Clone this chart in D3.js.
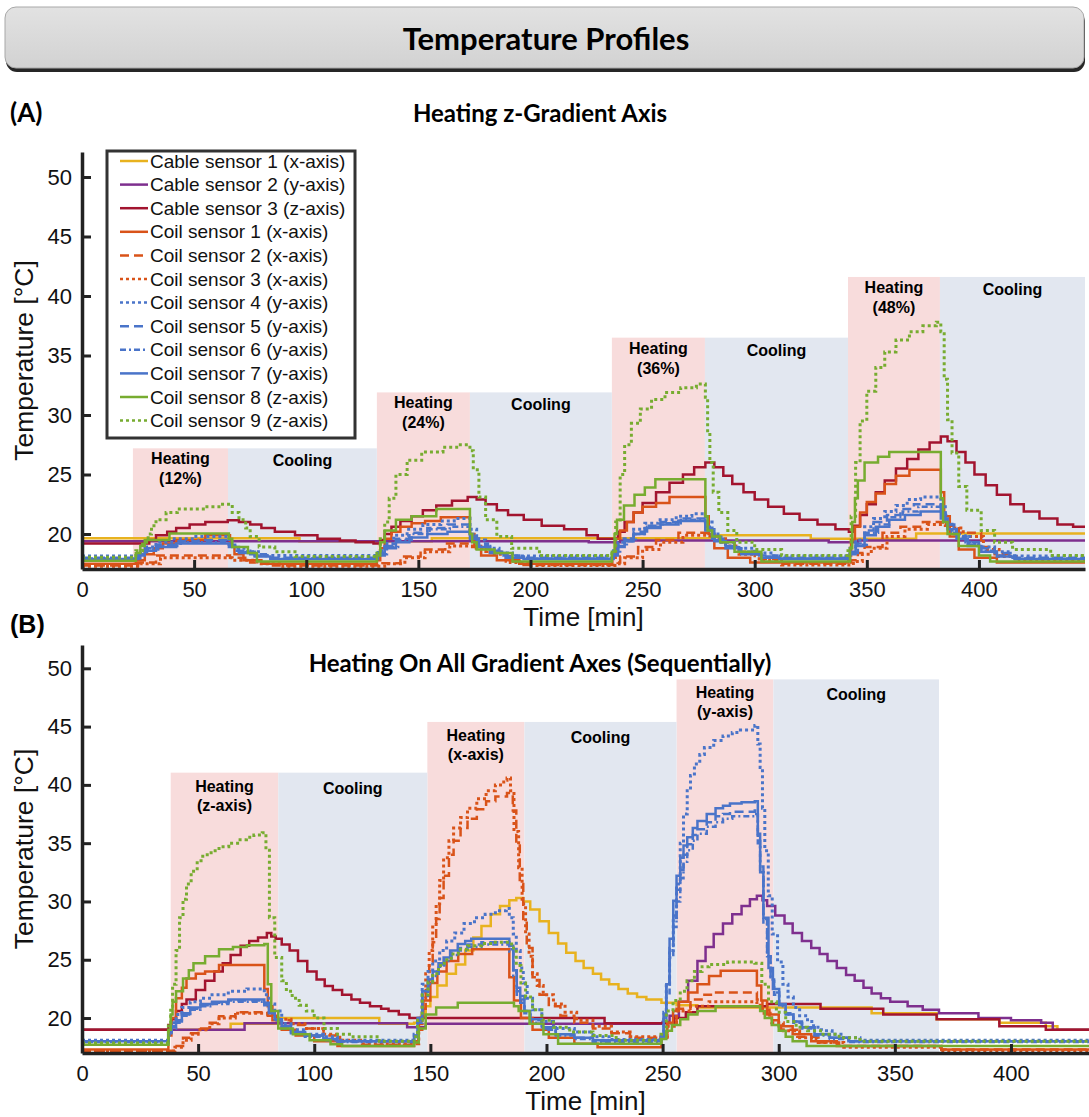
<!DOCTYPE html>
<html>
<head>
<meta charset="utf-8">
<script src="https://cdn.jsdelivr.net/npm/d3@7"></script>
<style>
  body { margin: 0; background: #fff; }
</style>
</head>
<body>
<div id="my_dataviz"></div>
<script>
// ---------- data (time [min], temperature [°C]) ----------
var sensorNames = ["Cable sensor 1 (x-axis)", "Cable sensor 2 (y-axis)", "Cable sensor 3 (z-axis)",
  "Coil sensor 1 (x-axis)", "Coil sensor 2 (x-axis)", "Coil sensor 3 (x-axis)",
  "Coil sensor 4 (y-axis)", "Coil sensor 5 (y-axis)", "Coil sensor 6 (y-axis)",
  "Coil sensor 7 (y-axis)", "Coil sensor 8 (z-axis)", "Coil sensor 9 (z-axis)"]
var sensorColors = ["#e8b21f", "#7e2f8e", "#a2142f", "#d95319", "#d95319", "#d95319",
  "#4a74c9", "#4a74c9", "#4a74c9", "#4a74c9", "#77ac30", "#77ac30"]
var sensorDash = [null, null, null, null, "9,5", "3,3", "3,3", "9,5", "6,3,2,3", null, null, "3,3"]

var xTicks = [0, 50, 100, 150, 200, 250, 300, 350, 400]
var yTicks = [20, 25, 30, 35, 40, 45, 50]

// panel A: blocks [start, end, top]
var a_heating = [[22.7, 65.1, 27.2], [131.5, 173, 31.9], [236.3, 277.8, 36.5], [341.6, 382.6, 41.6]]
var a_heatLabels = ["(12%)", "(24%)", "(36%)", "(48%)"]
var a_cooling = [[65.1, 131.5, 27.2], [173, 236.3, 31.9], [277.8, 341.6, 36.5], [382.6, 447.3, 41.6]]

// panel B
var b_heating = [[38.2, 84.5, 41.05], [148.7, 190.5, 45.4], [256, 297.7, 49.05]]
var b_heatLabels = ["(z-axis)", "(x-axis)", "(y-axis)"]
var b_cooling = [[84.5, 148.7, 41.05], [190.5, 256, 45.4], [297.7, 369, 49.05]]

var a_cable1 = [[0,19.65],[97,19.4],[156,19.65],[282,19.9],[325,19.6],[372,20.05],[447.3,20.05]]
var a_cable2 = [[0,19.4],[226,19.3],[240,19.45],[333,19.3],[346,19.45],[447.3,19.45]]
var a_cable3 = [[0,19.2],[28,19.2],[30,19.5],[33,19.9],[38,20.2],[42,20.5],[48,20.8],[55,21.0],[65,21.15],[70,21.0],[75,20.8],[80,20.5],[86,20.2],[95,19.9],[105,19.6],[115,19.45],[122,19.3],[130,19.2],
  [133,19.5],[135,20.0],[138,20.6],[142,21.1],[147,21.5],[152,22.0],[158,22.4],[165,22.8],[172,23.1],[176,22.9],[180,22.5],[185,22.0],[190,21.6],[197,21.2],[205,20.7],[215,20.4],[225,19.9],[230,19.6],
  [239,20.2],[242,21.0],[246,21.8],[250,22.6],[256,23.5],[262,24.3],[268,25.0],[273,25.6],[278,26.0],[282,25.6],[286,24.9],[290,24.2],[295,23.5],[300,22.9],[306,22.3],[313,21.7],[320,21.2],[328,20.8],[336,20.4],[342,20.2],
  [344,20.7],[347,21.6],[350,22.5],[354,23.5],[358,24.5],[363,25.5],[368,26.3],[373,27.1],[378,27.7],[383,28.2],[386,27.8],[390,26.9],[394,26.0],[398,25.0],[403,24.1],[408,23.3],[414,22.5],[420,21.9],[427,21.3],[435,20.8],[442,20.6],[447.3,20.5]]
var a_coil1 = [[0,17.5],[24,17.8],[28,18.3],[32,18.8],[36,19.2],[42,19.5],[55,19.9],[66,19.0],[68,18.3],[72,17.8],[80,17.5],
  [131.5,17.8],[133,18.8],[135,19.6],[138,20.2],[142,20.6],[147,20.9],[153,21.1],[160,21.4],[173,20.0],[175,19.0],[178,18.2],[185,17.8],[195,17.5],
  [236.5,18.0],[238,19.6],[240,20.3],[243,21.0],[246,21.8],[250,22.3],[256,22.6],[262,23.1],[278,21.5],[279.5,20.0],[282,18.8],[288,18.0],[298,17.6],
  [341.8,18.2],[343,19.5],[344.7,20.6],[347,21.8],[350,22.7],[354,23.4],[358,24.2],[363,24.9],[369,25.4],[383,23.5],[384.5,21.5],[387,19.8],[391,18.7],[398,18.0],[408,17.6],[447.3,17.6]]
var a_coil2 = [[0,17.35],[25,17.6],[33,18.2],[66,18.0],[75,17.6],[84,17.35],[134,17.55],[142,18.1],[151,18.7],[162,19.2],[174,18.9],[180,18.5],[189,17.7],[196,17.4],
  [238,17.6],[240,18.1],[248,18.9],[256,19.5],[266,20.1],[279,19.8],[285,19.3],[291,18.5],[300,17.9],[310,17.5],
  [343,17.8],[346,18.4],[349,18.9],[357,20.1],[365,20.6],[375,21.0],[384,20.7],[391,20.1],[401,18.9],[407,18.3],[416,17.9],[447.3,17.9]]
var a_coil3 = [[0,17.3],[26,17.5],[35,18.0],[67,17.8],[78,17.5],[88,17.3],[135,17.5],[144,18.0],[153,18.5],[164,19.0],[175,18.8],[182,18.3],[191,17.6],[199,17.35],
  [239,17.5],[242,18.0],[250,18.7],[258,19.3],[268,19.9],[280,19.6],[287,19.0],[293,18.3],[302,17.8],[312,17.4],
  [344,17.7],[348,18.3],[352,18.8],[359,19.8],[367,20.4],[377,20.8],[385,20.5],[393,19.8],[402,18.7],[409,18.1],[418,17.8],[447.3,17.8]]
var a_coil4 = [[0,18.15],[25,18.4],[28,18.9],[33,19.3],[40,19.6],[50,19.8],[65.5,19.3],[68,18.8],[73,18.5],[80,18.2],
  [132,18.6],[135,19.2],[139,19.9],[145,20.4],[152,20.8],[160,21.1],[166,21.3],[173,20.4],[176,19.5],[180,18.8],[186,18.4],[192,18.15],
  [237,18.6],[239,19.3],[241.7,19.6],[246,20.4],[251,20.9],[257,21.2],[265,21.5],[272,21.7],[278,21.0],[281,20.0],[285,19.3],[291,18.8],[300,18.4],[308,18.15],
  [342.5,18.8],[345,19.5],[349,20.6],[353,21.3],[358,21.9],[363,22.4],[368,22.9],[374,23.1],[383,22.3],[385,21.0],[388,20.2],[391,19.8],[396,19.2],[400,18.9],[407,18.5],[413,18.15],[447.3,18.15]]
var a_coil5 = [[0,18.0],[25,18.3],[28,18.8],[33,19.1],[42,19.4],[52,19.5],[65.5,19.1],[69,18.6],[75,18.3],[82,18.0],
  [132,18.4],[135,19.0],[140,19.6],[146,20.1],[154,20.5],[163,20.8],[173,20.0],[176,19.2],[181,18.6],[188,18.2],[195,18.0],
  [237,18.4],[239,19.1],[242,19.5],[246,20.2],[251,20.7],[258,21.0],[266,21.3],[278,20.6],[281,19.6],[286,19.0],[293,18.5],[302,18.2],[310,18.0],
  [342.5,18.5],[345,19.2],[349,20.3],[353,21.0],[359,21.6],[365,22.1],[371,22.5],[383,21.8],[385,20.8],[389,20.0],[394,19.3],[400,18.8],[407,18.4],[415,18.0],[447.3,18.0]]
var a_coil6 = [[0,17.95],[26,18.3],[29,18.7],[34,19.0],[44,19.3],[65.5,19.0],[70,18.5],[77,18.2],[84,17.95],
  [132,18.3],[136,18.9],[141,19.5],[147,20.0],[155,20.4],[164,20.6],[173,19.8],[177,19.0],[182,18.5],[189,18.1],[197,17.95],
  [237,18.3],[240,19.0],[243,19.4],[247,20.0],[252,20.6],[259,20.9],[267,21.2],[278,20.4],[282,19.5],[287,18.9],[294,18.4],[303,18.1],[311,17.95],
  [342.5,18.4],[346,19.1],[350,20.1],[355,20.8],[360,21.4],[366,21.9],[373,22.3],[383,21.6],[386,20.6],[390,19.8],[395,19.1],[401,18.6],[408,18.2],[416,17.95],[447.3,17.95]]
var a_coil7 = [[0,17.9],[25,18.2],[28,18.6],[33,18.9],[42,19.2],[65.5,18.9],[70,18.4],[77,18.1],[84,17.9],
  [132,18.2],[135,18.8],[140,19.3],[146,19.7],[154,20.0],[163,20.2],[173,19.6],[177,18.9],[182,18.4],[189,18.0],[197,17.9],
  [237,18.2],[239,18.9],[242,19.4],[246,20.0],[251,20.5],[258,20.8],[266,21.1],[278,20.3],[282,19.4],[287,18.8],[294,18.3],[303,18.0],[311,17.9],
  [342.5,18.3],[345,19.0],[349,19.9],[354,20.6],[360,21.2],[367,21.6],[374,21.9],[383,21.3],[386,20.4],[390,19.6],[395,19.0],[401,18.5],[408,18.1],[416,17.9],[447.3,17.9]]
var a_coil8 = [[0,17.75],[24,18.4],[26,19.0],[28,19.5],[39,20.05],[65.5,19.6],[67,18.9],[74,18.4],[78,17.7],
  [131.5,18.2],[133,19.3],[135,20.3],[140,21.2],[147,21.5],[158,22.1],[173,20.0],[174,19.3],[176,18.7],[184,18.4],[192,17.7],
  [236.3,18.5],[237.5,20.0],[238.6,21.2],[241.7,22.4],[246.4,23.3],[251,23.9],[255.7,24.6],[278,21.5],[279,20.3],[281,19.8],[284.6,19.3],[291,18.5],[303,17.7],
  [342.5,18.8],[343.5,21.0],[344.7,23.0],[346,24.5],[349,26.0],[355,26.5],[360,26.9],[383,23.0],[384,21.0],[386,20.0],[391,19.0],[400,18.2],[405,17.7],[447.3,17.7]]
var a_coil9 = [[0,18.05],[24,18.6],[27,19.3],[29.5,20.0],[31,20.7],[33,21.2],[37.5,21.8],[42.5,22.1],[55,22.3],[62,22.5],[67,21.8],[70,21.2],[73,20.5],[75,19.8],[79,18.9],[86,18.5],[95,18.1],
  [131.5,18.6],[133,19.6],[135,21.0],[137,23.0],[140,25.0],[145,26.2],[151.5,26.9],[161,27.3],[168,27.5],[173,27.0],[174.5,25.4],[177,23.1],[180,21.2],[185,19.8],[191.6,18.8],[204,18.2],
  [236.3,18.6],[238,21.0],[240,25.0],[242,27.5],[245,29.3],[249,30.5],[254,31.3],[260,31.9],[267,32.3],[274,32.6],[278,31.5],[279,28.5],[280,26.0],[281.5,23.5],[284,21.8],[288,20.3],[292,19.3],[300,18.7],[312,18.2],
  [341.6,18.6],[343,21.5],[345,26.0],[347,29.5],[350,32.0],[354,34.0],[358,35.3],[363,36.3],[369,37.0],[375,37.5],[381,37.8],[383,37.0],[384.5,33.0],[386,29.6],[388,26.8],[391,24.0],[394.6,22.0],[401,20.3],[407,19.3],[415,18.7],[432,18.2],[447.3,18.2]]

var b_cable1 = [[0,19.0],[64,19.5],[85,20.0],[128,19.5],[143,19.6],[146,20.2],[148,21.0],[150,21.8],[153,22.8],[157,23.8],[161,24.6],[165,25.8],[168.5,26.9],[172,27.9],[176,28.9],[180,29.6],[184,30.1],[187,30.3],[190,30.0],[193,29.3],[197,28.3],[201,27.3],[205,26.4],[208.5,25.6],[212.5,24.9],[216,24.3],[220,23.8],[223.5,23.3],[227,22.9],[231,22.5],[235,22.1],[239,21.8],[243,21.6],[249.5,21.3],[256,21.1],[265,20.9],[330,20.9],[340,20.4],[368,19.9],[395,19.6],[415,19.3],[420,19.0],[433.6,19.0]]
var b_cable2 = [[0,19.0],[70,19.55],[140,19.2],[148,19.5],[250,19.65],[253,20.2],[257,21.4],[261,23.2],[265,24.9],[268.5,26.1],[272,27.2],[276,28.1],[280,28.9],[284,29.6],[287.6,30.2],[290.6,30.5],[293,30.1],[295,29.6],[298.5,28.8],[302.5,28.1],[306,27.3],[310,26.6],[314,26.0],[317.6,25.5],[321,24.9],[325,24.3],[329,23.7],[332.7,23.2],[336.5,22.6],[340,22.1],[344,21.7],[348,21.4],[355.5,21.0],[362,20.7],[369,20.4],[386,20.0],[400,19.8],[413,19.6],[418,19.0],[433.6,19.0]]
var b_cable3 = [[0,19.0],[37.2,19.4],[38.5,19.9],[40.5,20.6],[43,21.2],[45,21.6],[49,22.4],[53,23.2],[57,24.0],[60.6,24.7],[64,25.4],[68.3,26.2],[72,26.6],[75.8,26.9],[79.6,27.3],[81.5,27.0],[83.4,26.8],[86,26.3],[89.4,25.8],[93,24.9],[97,24.0],[101,23.3],[104.5,22.75],[108,22.4],[112,22.0],[116,21.6],[119.7,21.3],[124,21.0],[128.8,20.8],[132,20.6],[136.4,20.3],[141,20.0],[225,19.55],[249.3,19.55],[255,20.0],[260,20.5],[265,21.0],[295,21.2],[318,20.8],[345,20.3],[368,19.9],[395,19.3],[415,19.0],[433.6,19.0]]
var b_coil1 = [[0,17.3],[37.2,18.5],[38.5,20.0],[40.5,21.7],[43,22.6],[45,23.4],[49,23.8],[53,24.0],[59,24.55],[78.5,22.5],[80,21.0],[82,19.8],[86,19.0],[92,18.5],[100,18.0],[110,17.6],
  [143,18.0],[145,20.0],[147,21.5],[150,23.0],[153,24.0],[157,24.9],[162,25.5],[168,25.9],[184,23.5],[186,21.5],[189,20.0],[194,19.0],[201,18.3],[212,17.8],[222,17.5],
  [249.5,18.3],[252,19.6],[254.5,20.6],[257,21.4],[261,22.2],[265,22.9],[270,23.6],[275,24.05],[290.6,22.8],[292.5,21.5],[295,20.3],[300,19.3],[306,18.6],[314,18.0],[325,17.6],[370,17.3],[433.6,17.3]]
var b_coil2 = [[0,17.2],[40,17.6],[43.5,18.3],[47,18.7],[50,19.1],[55,19.6],[59,20.15],[66,20.5],[80,20.2],[84,19.8],[90,19.4],[96,19.1],[104,18.5],[111,18.0],[120,17.7],
  [143,17.8],[145,19.0],[146.5,20.8],[148,22.8],[149.5,24.8],[151,26.5],[152.5,28.5],[154,30.3],[155.7,32.2],[158,34.0],[160,35.2],[163,36.3],[166,37.1],[170,37.9],[174,38.6],[178,39.0],[183,39.3],[185.5,37.8],[187,35.0],[188.5,31.5],[190,28.5],[191.5,26.0],[194,23.5],[197,22.0],[201,21.0],[206,20.2],[212,19.6],[220,19.1],[228,18.7],[236,18.3],
  [249.5,18.5],[252,19.6],[256,20.8],[262,21.6],[268,22.0],[272,22.2],[290.6,21.6],[293,20.7],[296,19.8],[301,19.0],[308,18.4],[316,17.9],[326,17.6],[370,17.3],[433.6,17.3]]
var b_coil3 = [[0,17.15],[40,17.5],[43.5,18.1],[47,18.6],[50,19.0],[55,19.5],[59,20.0],[66,20.4],[80,20.3],[84,19.9],[90,19.5],[96,19.1],[104,18.6],[111,18.1],[120,17.8],
  [143,17.8],[145,19.5],[146.5,21.7],[148,23.8],[149.5,25.8],[151,27.8],[152.5,29.8],[154,31.8],[155.7,33.75],[158,35.2],[160,36.3],[163,37.2],[166,38.0],[170,38.8],[174,39.5],[178,40.0],[181.6,40.4],[183,40.6],[184.5,39.5],[186,36.0],[188,32.9],[189.5,29.8],[191,27.2],[192.5,25.3],[194,23.8],[196,22.8],[198.6,22.0],[203,21.2],[208,20.5],[213,19.8],[220,19.3],[228,18.8],[236,18.4],
  [249.5,18.4],[252,19.3],[256,20.6],[262,21.0],[270,21.4],[290.6,21.1],[293,20.4],[297,19.6],[302,18.9],[309,18.3],[317,17.9],[328,17.5],[370,17.2],[433.6,17.2]]
var b_coil4 = [[0,18.1],[37.2,18.8],[38.5,19.6],[40.5,20.3],[43,20.9],[46.6,21.4],[51,21.7],[56,22.0],[63,22.3],[71,22.5],[78.5,22.0],[80.5,21.2],[83,20.6],[86,19.5],[90,19.0],[96,18.6],[104,18.4],[110,18.1],
  [143,18.6],[144.5,20.0],[146.5,22.9],[149,24.0],[151,24.9],[154,25.8],[157,26.6],[160.5,27.3],[164.5,28.1],[169,28.6],[173.6,28.9],[178,29.2],[182.7,29.4],[184,28.6],[185.7,27.2],[187,25.8],[188.7,24.3],[190,23.0],[191.7,21.7],[194,20.7],[198,19.7],[203,19.1],[212,18.8],[220,18.4],[227,18.15],
  [249.3,18.3],[250.5,20.5],[251.6,22.9],[253,25.8],[254.6,28.6],[256,31.5],[257.6,35.0],[259,37.5],[260.6,39.5],[262,40.8],[263.7,41.8],[266,42.6],[268,43.2],[272,43.8],[276,44.2],[280,44.5],[283.5,44.7],[289.7,45.1],[291,43.5],[292,41.5],[293,38.0],[294,34.35],[295.5,30.5],[297.2,27.2],[299.5,24.8],[301.8,22.9],[304,21.8],[306.3,20.9],[309,20.2],[312.4,19.7],[315,19.2],[318.4,18.9],[323,18.6],[327.6,18.3],[335,18.1],[433.6,18.1]]
var b_coil5 = [[0,18.0],[37.2,18.6],[38.5,19.2],[40.5,19.7],[43,20.3],[46.6,20.8],[51,21.1],[56,21.3],[63,21.5],[78.5,21.2],[80.5,20.5],[83,19.9],[86,19.2],[90,18.8],[96,18.5],[104,18.2],[110,18.0],
  [143,18.4],[144.5,19.8],[146.5,22.1],[149,23.1],[151,23.8],[153.5,24.6],[156,25.1],[159,25.6],[162,26.0],[166,26.3],[172,26.5],[184,25.9],[185.7,23.9],[187.2,22.3],[188.7,21.6],[190.5,20.6],[193,19.8],[198,19.1],[204,18.6],[212,18.3],[220,18.0],
  [249.3,18.4],[250.5,20.2],[251.6,22.6],[253,26.0],[254.6,28.8],[256,31.0],[257.6,32.7],[259,34.0],[260.6,34.9],[263,35.7],[265,36.2],[269,36.8],[272.8,37.3],[276,37.5],[279,37.7],[289.7,37.8],[291,35.5],[292,33.0],[293.4,28.5],[295,25.5],[296.5,23.5],[298,22.2],[300.2,21.1],[303,20.4],[306.3,19.7],[310,19.2],[315.4,18.6],[322,18.3],[330,18.0],[433.6,18.0]]
var b_coil6 = [[0,17.95],[37.2,18.5],[38.5,19.1],[40.5,19.6],[43,20.2],[46.6,20.7],[51,21.0],[56,21.2],[63,21.4],[78.5,21.1],[80.5,20.4],[83,19.8],[86,19.1],[90,18.7],[96,18.4],[104,18.1],[110,17.95],
  [143,18.3],[144.5,19.6],[146.5,21.9],[149,22.9],[151,23.6],[153.5,24.4],[156,24.9],[159,25.4],[162,25.8],[166,26.1],[172,26.3],[184,25.7],[185.7,23.6],[187.2,22.0],[188.7,21.3],[190.5,20.4],[193,19.6],[198,19.0],[204,18.5],[212,18.2],[220,17.95],
  [249.3,18.3],[250.5,19.9],[251.6,22.0],[253,25.2],[254.6,27.8],[256,30.0],[257.6,32.0],[259,33.4],[260.6,34.4],[263,35.2],[265,35.8],[269,36.4],[272.8,36.8],[276,37.1],[280,37.3],[289.7,37.5],[291,35.0],[292,32.5],[293.4,28.2],[295,25.3],[296.5,23.3],[298,22.0],[300.2,21.0],[303,20.3],[306.3,19.6],[310,19.1],[315.4,18.5],[322,18.2],[330,17.95],[433.6,17.95]]
var b_coil7 = [[0,18.0],[37.2,18.7],[38.5,19.3],[40.5,19.8],[43,20.4],[46.6,20.9],[51,21.2],[56,21.4],[63,21.6],[78.5,21.3],[80.5,20.6],[83,19.9],[86,19.3],[90,18.8],[96,18.5],[104,18.2],[110,18.0],
  [143,18.5],[144.5,20.0],[146.5,22.3],[149,23.3],[151,24.0],[153.5,24.7],[155.7,25.2],[158.5,25.8],[161.8,26.35],[165,26.6],[167.6,26.8],[184,26.2],[185.7,24.1],[187.2,22.6],[188.7,21.9],[190.5,20.6],[193,19.9],[198,19.2],[204,18.6],[212,18.3],[220,18.1],
  [249.3,18.5],[250.5,20.3],[251.6,22.9],[253,26.8],[254.6,30.05],[256,32.2],[257.6,33.75],[259,34.8],[260.6,35.5],[263,36.3],[265,36.9],[269,37.5],[272.8,38.0],[276,38.2],[279,38.4],[284,38.5],[289.7,38.6],[291,35.8],[292,32.5],[293.4,28.6],[295.6,24.3],[297.5,22.5],[300.2,21.2],[303,20.3],[306.3,19.7],[310,19.2],[315.4,18.6],[322,18.3],[330,18.0],[433.6,18.0]]
var b_coil8 = [[0,17.7],[37.2,19.0],[38.2,20.3],[39,21.4],[40.5,22.3],[43.5,23.4],[46,24.1],[48,24.7],[53,25.3],[59,25.9],[65,26.1],[71,26.25],[78.5,26.35],[80,22.9],[81.5,20.6],[84.5,19.1],[90.8,18.6],[98,18.1],[107,17.75],[112,17.6],
  [143,17.9],[145,19.1],[148,20.3],[152.5,20.9],[161.8,21.3],[186,21.0],[188,20.6],[192.7,19.5],[198.7,18.6],[205,17.8],
  [249.5,18.2],[251.6,18.9],[254,19.4],[257.6,19.9],[261,20.3],[265,20.6],[272.8,21.0],[292,20.6],[294,20.0],[297,19.4],[300,18.9],[303,18.4],[306,18.0],[312,17.6],[433.6,17.6]]
var b_coil9 = [[0,17.85],[37.2,19.5],[38.2,21.0],[39,22.9],[40.5,25.8],[42,28.6],[43.5,30.2],[45,31.5],[47,32.6],[49.6,33.5],[52,34.0],[55.6,34.35],[59,34.7],[63.2,35.0],[67,35.3],[70.8,35.5],[74,35.7],[77.6,35.9],[79.2,34.4],[80.7,28.6],[83,25.2],[86,23.2],[88,22.3],[90.5,21.7],[93.5,21.1],[96.6,20.6],[100,20.0],[104.2,19.1],[110,18.6],[116,18.4],[128,18.0],
  [143,18.4],[144.5,19.8],[146.5,22.0],[149,23.1],[151,23.8],[153.5,24.5],[156,25.0],[159,25.5],[162,25.9],[166,26.2],[172,26.4],[177,26.5],[185,26.0],[187,24.5],[189,23.0],[191,21.8],[194,20.7],[198,19.8],[203,19.2],[210,18.8],[220,18.5],[230,18.1],
  [249.3,18.6],[251.6,20.6],[254.5,21.5],[257.6,22.3],[260.5,23.2],[263.7,24.0],[267,24.4],[270,24.6],[278,24.8],[289.7,24.7],[292.7,22.9],[295.6,21.4],[299,20.5],[303,19.7],[307.5,19.2],[312.4,18.9],[318,18.6],[326,18.3],[335,18.0],[433.6,18.0]]

var a_series = [a_cable1, a_cable2, a_cable3, a_coil1, a_coil2, a_coil3, a_coil4, a_coil5, a_coil6, a_coil7, a_coil8, a_coil9]
var b_series = [b_cable1, b_cable2, b_cable3, b_coil1, b_coil2, b_coil3, b_coil4, b_coil5, b_coil6, b_coil7, b_coil8, b_coil9]

// ---------- drawing ----------
var W = 1089, H = 1117
var axisFont = "'Liberation Sans', Arial, Helvetica, sans-serif"
var titleFont = "Lato, 'Open Sans', sans-serif"

var svg = d3.select("#my_dataviz")
  .append("svg")
    .attr("width", W)
    .attr("height", H)
    .style("display", "block")

// header box
var grad = svg.append("defs").append("linearGradient").attr("id", "hdr").attr("x1", 0).attr("y1", 0).attr("x2", 0).attr("y2", 1)
grad.append("stop").attr("offset", "0%").attr("stop-color", "#e2e2e2")
grad.append("stop").attr("offset", "100%").attr("stop-color", "#d2d2d2")
svg.append("rect").attr("x", 6).attr("y", 11).attr("width", 1079).attr("height", 61).attr("rx", 11).style("fill", "#262626")
svg.append("rect").attr("x", 5).attr("y", 7).attr("width", 1079).attr("height", 61).attr("rx", 11)
  .style("fill", "url(#hdr)").style("stroke", "#a8a8a8").style("stroke-width", 1)
svg.append("text").attr("x", 546).attr("y", 50).attr("text-anchor", "middle")
  .style("font-family", titleFont).style("font-weight", "bold").style("font-size", "31px").style("fill", "#000")
  .text("Temperature Profiles")

svg.append("text").attr("x", 10).attr("y", 122)
  .style("font-family", titleFont).style("font-weight", "bold").style("font-size", "26px").text("(A)")
svg.append("text").attr("x", 540).attr("y", 122).attr("text-anchor", "middle")
  .style("font-family", titleFont).style("font-weight", "bold").style("font-size", "24px").text("Heating z-Gradient Axis")
svg.append("text").attr("x", 10).attr("y", 633)
  .style("font-family", axisFont).style("font-weight", "bold").style("font-size", "25px").text("(B)")
svg.append("text").attr("x", 540).attr("y", 672).attr("text-anchor", "middle")
  .style("font-family", titleFont).style("font-weight", "bold").style("font-size", "24px").text("Heating On All Gradient Axes (Sequentially)")

function drawPanel(cfg, id) {
  var x = d3.scaleLinear().domain(cfg.xDomain).range([82, cfg.right])
  var y = d3.scaleLinear().domain([cfg.yMin, cfg.yMax]).range([cfg.bottom, cfg.top])
  var g = svg.append("g")

  g.append("clipPath").attr("id", "clip" + id)
    .append("rect").attr("x", 82).attr("y", cfg.top).attr("width", cfg.right - 82).attr("height", cfg.bottom - cfg.top)

  // heating / cooling blocks
  g.selectAll(".heat").data(cfg.heating).enter().append("rect")
    .attr("x", function(d) { return x(d[0]) })
    .attr("y", function(d) { return y(d[2]) })
    .attr("width", function(d) { return x(d[1]) - x(d[0]) })
    .attr("height", function(d) { return cfg.bottom - y(d[2]) })
    .style("fill", "#f8dcdc")
  g.selectAll(".cool").data(cfg.cooling).enter().append("rect")
    .attr("x", function(d) { return x(d[0]) })
    .attr("y", function(d) { return y(d[2]) })
    .attr("width", function(d) { return x(d[1]) - x(d[0]) })
    .attr("height", function(d) { return cfg.bottom - y(d[2]) })
    .style("fill", "#e2e7f0")

  for (let i = 0; i < cfg.heating.length; i++) {
    var d = cfg.heating[i]
    var t = g.append("text").attr("text-anchor", "middle")
      .style("font-family", axisFont).style("font-weight", "bold").style("font-size", "16px")
    t.append("tspan").attr("x", (x(d[0]) + x(d[1])) / 2).attr("y", y(d[2]) + cfg.lab1).text("Heating")
    t.append("tspan").attr("x", (x(d[0]) + x(d[1])) / 2).attr("y", y(d[2]) + cfg.lab2).text(cfg.heatLabels[i])
  }
  g.selectAll(".coolLab").data(cfg.cooling).enter().append("text")
    .attr("x", function(d) { return (x(d[0]) + x(d[1])) / 2 })
    .attr("y", function(d) { return y(d[2]) + cfg.lab1 + 2 })
    .attr("text-anchor", "middle")
    .style("font-family", axisFont).style("font-weight", "bold").style("font-size", "16px")
    .text("Cooling")

  // sensor lines
  var line = d3.line()
    .x(function(d) { return x(d[0]) })
    .y(function(d) { return y(d[1]) })
    .curve(d3.curveStepAfter)
  var lines = g.append("g").attr("clip-path", "url(#clip" + id + ")")
  for (let i = 0; i < cfg.series.length; i++) {
    lines.append("path")
      .attr("d", line(cfg.series[i]))
      .style("fill", "none")
      .style("stroke", sensorColors[i])
      .style("stroke-width", sensorDash[i] == "3,3" ? 3 : 2.5)
      .style("stroke-dasharray", sensorDash[i])
  }

  // axes
  var yAxis = g.append("g").attr("transform", "translate(82,0)")
    .call(d3.axisLeft(y).tickValues(yTicks).tickSizeInner(-9).tickSizeOuter(0).tickPadding(10))
  var xAxis = g.append("g").attr("transform", "translate(0," + cfg.bottom + ")")
    .call(d3.axisBottom(x).tickValues(xTicks).tickSizeInner(-9).tickSizeOuter(0).tickPadding(12))
  ;[yAxis, xAxis].forEach(function(a) {
    a.select(".domain").style("stroke", "#222").style("stroke-width", 3.5)
    a.selectAll(".tick line").style("stroke", "#222").style("stroke-width", 3)
    a.selectAll(".tick text").style("font-family", axisFont).style("font-size", "22px").style("fill", "#111")
  })

  g.append("text").attr("x", (82 + cfg.right) / 2).attr("y", cfg.bottom + 57).attr("text-anchor", "middle")
    .style("font-family", axisFont).style("font-size", "26px").style("fill", "#111").text("Time [min]")
  g.append("text").attr("transform", "translate(33," + (cfg.top + cfg.bottom) / 2 + ") rotate(-90)")
    .attr("text-anchor", "middle")
    .style("font-family", axisFont).style("font-size", "26.5px").style("fill", "#111").text("Temperature [°C]")
  return g
}

drawPanel({xDomain: [0, 447.3], right: 1085, yMin: 17.06, yMax: 52.1, top: 152, bottom: 569,
  heating: a_heating, cooling: a_cooling, heatLabels: a_heatLabels, series: a_series, lab1: 16, lab2: 36}, "A")
drawPanel({xDomain: [0, 433.6], right: 1089, yMin: 17, yMax: 52, top: 645, bottom: 1053,
  heating: b_heating, cooling: b_cooling, heatLabels: b_heatLabels, series: b_series, lab1: 19, lab2: 38}, "B")

// legend (panel A)
var legend = svg.append("g")
legend.append("rect").attr("x", 107).attr("y", 151).attr("width", 248).attr("height", 287)
  .style("fill", "#fff").style("stroke", "#333").style("stroke-width", 3)
for (let i = 0; i < sensorNames.length; i++) {
  var ly = 167.5 + i * 23.6
  legend.append("line").attr("x1", 120).attr("x2", 148).attr("y1", ly - 6.5).attr("y2", ly - 6.5)
    .style("stroke", sensorColors[i]).style("stroke-width", 2.5).style("stroke-dasharray", sensorDash[i])
  legend.append("text").attr("x", 150).attr("y", ly)
    .style("font-family", axisFont).style("font-size", "19px").style("fill", "#111").text(sensorNames[i])
}
</script>
</body>
</html>
